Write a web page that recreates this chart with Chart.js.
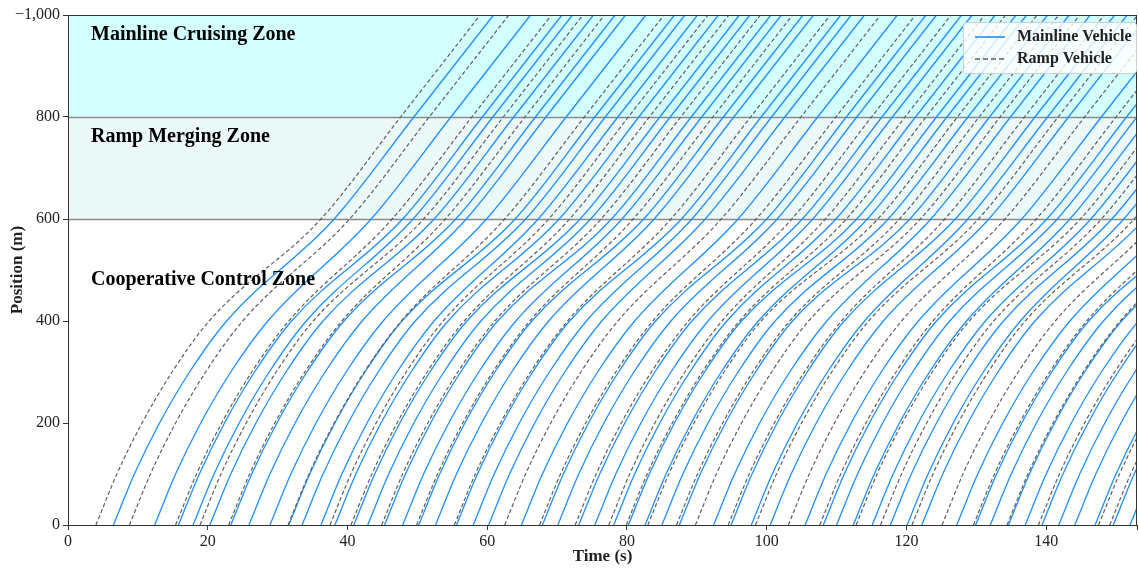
<!DOCTYPE html>
<html><head><meta charset="utf-8">
<script src="https://cdn.jsdelivr.net/npm/chart.js@4"></script>
<style>html,body{margin:0;padding:0;background:#fff}#wrap{width:1139px;height:568px}</style>
</head><body><div id="wrap"><canvas id="c" width="1139" height="568"></canvas></div>
<script>
// ---- data ----
const entryTimes = [4.0,6.5,8.8,12.4,15.4,15.8,17.9,18.9,20.3,23.0,23.3,25.9,28.9,31.5,31.6,33.5,36.2,37.5,38.2,40.5,40.9,42.9,44.9,45.3,47.9,49.9,50.2,52.6,55.3,55.6,58.0,60.2,62.5,64.9,67.5,67.9,70.1,72.6,73.1,75.4,77.4,78.1,79.9,80.2,82.6,83.0,85.0,87.1,87.5,89.8,92.4,94.5,94.9,97.8,98.4,100.5,103.1,105.5,107.6,108.1,110.0,112.4,112.8,115.1,116.3,117.7,120.1,120.8,122.2,125.1,127.2,129.6,129.9,132.0,134.4,134.6,137.0,138.9,139.4,141.8,144.1,147.0,147.5,149.1,149.6,152.0];
const vehicleTypes = ['R','M','R','M','R','M','M','R','M','R', 'M','M','M','R','M','M','M','R','M','R', 'M','M','R','M','M','R','M','M','R','M', 'M','M','R','M','R','M','M','R','M','M', 'R','M','R','M','M','R','M','R','M','R', 'M','R','M','M','R','M','R','M','R','M', 'M','M','R','M','R','M','M','R','M','R', 'M','R','M','M','R','M','M','R','M','M', 'M','M','R','R','M','M'];
const mergeTimes = [36.2,38.1,40.3,43.4,46.4,47.9,49.4,50.9,52.4,54.0, 55.5,57.0,59.9,62.5,64.0,65.5,67.3,68.8,70.3,71.8, 73.3,74.8,76.3,77.8,79.3,80.9,82.4,83.9,86.3,87.8, 89.3,91.2,93.5,95.9,98.5,100.0,101.5,103.6,105.1,106.6, 108.4,109.9,111.4,112.9,114.4,115.9,117.4,119.0,120.5,122.0, 123.5,125.5,127.0,128.8,130.3,131.8,134.1,136.5,138.6,140.1, 141.6,143.4,144.9,146.4,147.9,149.4,151.1,152.6,154.1,156.1, 158.2,160.6,162.1,163.6,165.4,166.9,168.4,169.9,171.4,172.9, 175.1,178.0,179.5,181.0,182.5,184.0];
// typical travel time (s) after entry to reach these positions in the control zone
const controlPositions = [0, 100, 200, 300, 400];
const controlOffsets   = [0, 3.0, 6.6, 10.9, 16.2];
// after the merge point: positions and time after merge
const cruisePositions = [600, 800, 1000];
const cruiseOffsets   = [0, 11.4, 22.8];
const zoneNames = ['Mainline Cruising Zone', 'Ramp Merging Zone', 'Cooperative Control Zone'];
const zoneBounds = [[800, 1000], [600, 800]];
const legendLabels = ['Mainline Vehicle', 'Ramp Vehicle'];
const xMax = 153;

const FONT = "'Liberation Serif', 'Times New Roman', serif";
const BLUE = '#1e90ff';
const GRAY = '#5f5f5f';

const datasets = entryTimes.map((t0, i) => {
  const pts = controlPositions.map((p, k) => ({x: t0 + controlOffsets[k], y: p}));
  cruisePositions.forEach((p, k) => pts.push({x: mergeTimes[i] + cruiseOffsets[k], y: p}));
  const ramp = vehicleTypes[i] === 'R';
  return {
    data: pts,
    showLine: true,
    borderColor: ramp ? GRAY : BLUE,
    borderWidth: ramp ? 1.2 : 1.3,
    borderDash: ramp ? [4, 2.5] : [],
    pointRadius: 0,
    cubicInterpolationMode: 'monotone',
    fill: false
  };
});

const zonePlugin = {
  id: 'zones',
  beforeDatasetsDraw(chart) {
    const {ctx, chartArea: a, scales: {x, y}} = chart;
    ctx.save();
    const cols = ['#d4ffff', '#ebf9f9'];
    zoneBounds.forEach((b, i) => {
      const y1 = y.getPixelForValue(b[1]), y0 = y.getPixelForValue(b[0]);
      ctx.fillStyle = cols[i];
      ctx.fillRect(a.left, y1, a.right - a.left, y0 - y1);
    });
    ctx.strokeStyle = '#8a8a8a';
    ctx.lineWidth = 1.5;
    [600, 800].forEach(v => {
      const py = Math.round(y.getPixelForValue(v)) + 0.5;
      ctx.beginPath(); ctx.moveTo(a.left, py); ctx.lineTo(a.right, py); ctx.stroke();
    });
    ctx.restore();
  },
  afterDatasetsDraw(chart) {
    const {ctx, chartArea: a, scales: {y}} = chart;
    ctx.save();
    // frame
    ctx.strokeStyle = '#333';
    ctx.lineWidth = 1;
    ctx.strokeRect(a.left + 0.5, a.top + 0.5, a.right - a.left - 1, a.bottom - a.top);
    // zone names
    ctx.fillStyle = '#000';
    ctx.font = 'bold 20px ' + FONT;
    ctx.textBaseline = 'middle';
    ctx.textAlign = 'left';
    ctx.fillText(zoneNames[0], 91, y.getPixelForValue(962));
    ctx.fillText(zoneNames[1], 91, y.getPixelForValue(762));
    ctx.fillText(zoneNames[2], 91, y.getPixelForValue(480));
    // legend
    const lx = 963, ly = 22, lw = 173, lh = 51;
    ctx.fillStyle = 'rgba(255,255,255,0.8)';
    ctx.strokeStyle = '#d0d0d0';
    ctx.lineWidth = 1;
    ctx.beginPath();
    ctx.roundRect(lx + 0.5, ly + 0.5, lw, lh, 3);
    ctx.fill(); ctx.stroke();
    ctx.lineWidth = 1.6;
    ctx.strokeStyle = BLUE; ctx.setLineDash([]);
    ctx.beginPath(); ctx.moveTo(975, 37); ctx.lineTo(1005, 37); ctx.stroke();
    ctx.strokeStyle = GRAY; ctx.setLineDash([5, 3]);
    ctx.beginPath(); ctx.moveTo(975, 59); ctx.lineTo(1005, 59); ctx.stroke();
    ctx.setLineDash([]);
    ctx.fillStyle = '#222';
    ctx.font = 'bold 16px ' + FONT;
    ctx.fillText(legendLabels[0], 1017, 37);
    ctx.fillText(legendLabels[1], 1017, 59);
    ctx.restore();
  }
};

new Chart(document.getElementById('c'), {
  type: 'scatter',
  data: {datasets},
  plugins: [zonePlugin],
  options: {
    responsive: false,
    animation: false,
    events: [],
    layout: {padding: {top: 15, right: 1, left: 0, bottom: 0}},
    plugins: {legend: {display: false}, tooltip: {enabled: false}},
    scales: {
      x: {
        type: 'linear', min: 0, max: xMax,
        afterFit: s => { s.height = 43; },
        grid: {display: true, drawOnChartArea: false, drawTicks: true, tickLength: 5, color: '#333'},
        border: {display: true, color: '#333'},
        ticks: {stepSize: 20, color: '#222', padding: 2, font: {family: FONT, size: 16}, maxRotation: 0,
                callback: v => (v % 20 === 0 ? String(v) : '')},
        title: {display: true, text: 'Time (s)', color: '#222', font: {family: FONT, size: 17, weight: 'bold'}, padding: {top: 0, bottom: 1}}
      },
      y: {
        type: 'linear', min: 0, max: 1000,
        afterFit: s => { s.width = 68; },
        grid: {display: true, drawOnChartArea: false, drawTicks: true, tickLength: 5, color: '#333'},
        border: {display: true, color: '#333'},
        ticks: {stepSize: 200, color: '#222', padding: 3, font: {family: FONT, size: 16},
                callback: v => (v === 1000 ? '\u22121,000' : String(v))},
        title: {display: true, text: 'Position (m)', color: '#222', font: {family: FONT, size: 17, weight: 'bold'}, padding: {top: 7, bottom: 0}}
      }
    }
  }
});
</script>
</body></html>
